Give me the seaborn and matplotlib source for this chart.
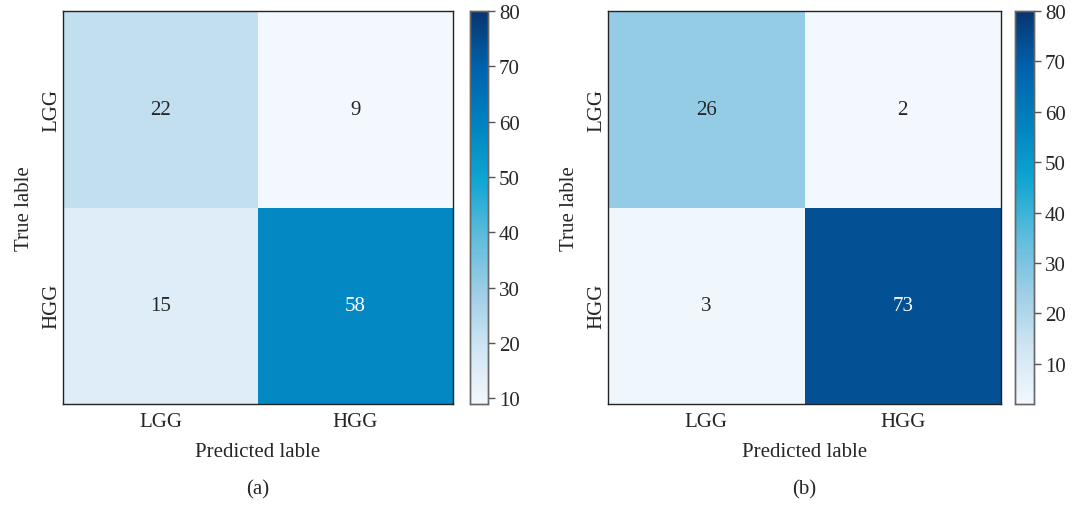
import numpy as np
import pandas as pd
import matplotlib
matplotlib.use("Agg")
import matplotlib.pyplot as plt
import seaborn as sns
from matplotlib.colors import LinearSegmentedColormap

classes = ["LGG", "HGG"]
cm_a = [[22, 9], [15, 58]]
cm_b = [[26, 2], [3, 73]]
cbar_ticks = [10, 20, 30, 40, 50, 60, 70, 80]
panel_labels = ["(a)", "(b)"]
xlabel = "Predicted lable"
ylabel = "True lable"

sns.set_theme(style="white")
plt.rcParams['font.family'] = ['Liberation Serif', 'DejaVu Serif']

cmap = LinearSegmentedColormap.from_list(
    "custom",
    ["#f2f8fd", "#cfe5f3", "#9dcde6", "#5cbcdc", "#0fa5d1", "#0082c0", "#0062ac", "#083570"],
)

fig = plt.figure(figsize=(10.8, 5.06), dpi=100)
W, H = 1080, 506
layouts = [
    (63, 453, 470, 488, 9),
    (608, 1001, 1015, 1034, 2),
]
for i, (cm, (x0, x1, cx0, cx1, vmin)) in enumerate(zip([cm_a, cm_b], layouts)):
    ax = fig.add_axes([x0 / W, 1 - 405 / H, (x1 - x0) / W, (405 - 12) / H])
    cax = fig.add_axes([cx0 / W, 1 - 405 / H, (cx1 - cx0) / W, (405 - 12) / H])
    df = pd.DataFrame(cm, index=classes, columns=classes)
    sns.heatmap(df, ax=ax, cbar_ax=cax, cmap=cmap, vmin=vmin, vmax=80,
                annot=True, fmt="d", annot_kws={"size": 15},
                cbar_kws={"ticks": cbar_ticks})
    for t in ax.texts:
        t.set_family(['Liberation Serif', 'DejaVu Serif'])
    ax.set_xlabel(xlabel, fontsize=15, labelpad=8)
    ax.set_ylabel(ylabel, fontsize=15, labelpad=6)
    ax.tick_params(axis="x", length=0, labelsize=15, pad=6)
    ax.tick_params(axis="y", length=0, labelsize=15, pad=1)
    ax.set_yticklabels(classes, rotation=90, va="center")
    ax.set_xticklabels(classes, rotation=0)
    for s in ax.spines.values():
        s.set_visible(True)
        s.set_color("#222222")
        s.set_linewidth(1.0)
    cax.tick_params(labelsize=15, length=5, width=1, color="#555555", pad=3)
    cax.yaxis.set_ticks_position("right")
    for s in cax.spines.values():
        s.set_visible(True)
        s.set_color("#666666")
        s.set_linewidth(1.0)
    cx = (x0 + x1) / 2 / W
    fig.text(cx, 1 - 490 / H, panel_labels[i], ha="center", va="center", fontsize=15)

fig.savefig("out.png", dpi=100, facecolor="white")
